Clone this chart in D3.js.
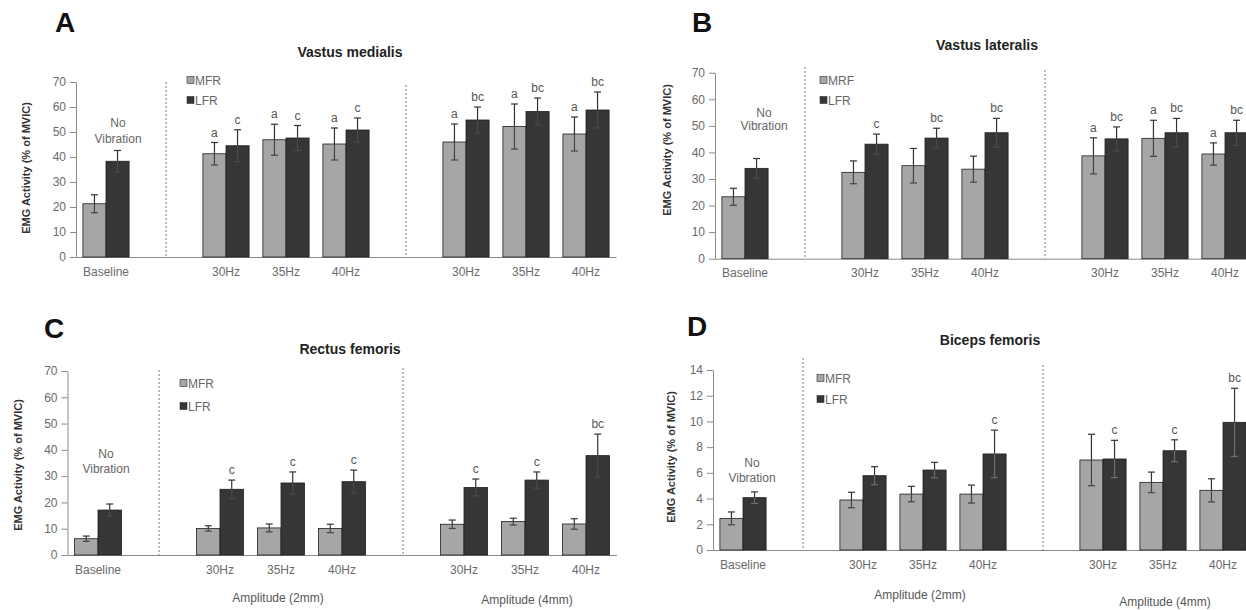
<!DOCTYPE html>
<html>
<head>
<meta charset="utf-8">
<script src="https://cdn.jsdelivr.net/npm/d3@7/dist/d3.min.js"></script>
<style>
  html, body { margin: 0; padding: 0; background: #fff; }
  svg { display: block; }
  text { font-family: "Liberation Sans", Arial, sans-serif; }
</style>
</head>
<body>
<svg id="chart" width="1246" height="610"></svg>
<script>
// ---------- DATA ----------
const slots = ["Baseline", "gap1", "30Hz_2mm", "35Hz_2mm", "40Hz_2mm", "gap2", "30Hz_4mm", "35Hz_4mm", "40Hz_4mm"];
const groups = ["Baseline", "30Hz_2mm", "35Hz_2mm", "40Hz_2mm", "30Hz_4mm", "35Hz_4mm", "40Hz_4mm"];
const tickLabels = ["Baseline", "30Hz", "35Hz", "40Hz", "30Hz", "35Hz", "40Hz"];
const seriesNames = ["MFR", "LFR"];

// Vastus medialis (A)
const vmMFR = [21.3, 41.3, 46.9, 45.2, 46.0, 52.2, 49.2];
const vmMFRerr = [3.6, 4.5, 6.2, 6.4, 7.2, 9.0, 6.8];
const vmLFR = [38.3, 44.5, 47.6, 50.8, 54.8, 58.2, 58.8];
const vmLFRerr = [4.3, 6.4, 5.0, 4.8, 5.2, 5.4, 7.2];
const vmMFRsig = ["", "a", "a", "a", "a", "a", "a"];
const vmLFRsig = ["", "c", "c", "c", "bc", "bc", "bc"];

// Vastus lateralis (B)
const vlMFR = [23.3, 32.5, 35.0, 33.7, 38.7, 45.3, 39.4];
const vlMFRerr = [3.2, 4.3, 6.5, 4.9, 6.8, 6.8, 4.2];
const vlLFR = [34.0, 43.1, 45.4, 47.4, 45.1, 47.4, 47.4];
const vlLFRerr = [3.7, 3.8, 3.7, 5.4, 4.5, 5.4, 4.7];
const vlMFRsig = ["", "", "", "", "a", "a", "a"];
const vlLFRsig = ["", "c", "bc", "bc", "bc", "bc", "bc"];

// Rectus femoris (C)
const rfMFR = [6.2, 10.1, 10.3, 10.1, 11.7, 12.7, 11.8];
const rfMFRerr = [1.0, 1.0, 1.5, 1.6, 1.6, 1.3, 2.0];
const rfLFR = [17.1, 25.0, 27.4, 27.9, 25.7, 28.5, 37.8];
const rfLFRerr = [2.3, 3.5, 4.2, 4.4, 3.2, 3.1, 8.2];
const rfMFRsig = ["", "", "", "", "", "", ""];
const rfLFRsig = ["", "c", "c", "c", "c", "c", "bc"];

// Biceps femoris (D)
const bfMFR = [2.46, 3.89, 4.35, 4.35, 7.0, 5.26, 4.64];
const bfMFRerr = [0.5, 0.6, 0.6, 0.7, 2.0, 0.8, 0.9];
const bfLFR = [4.07, 5.78, 6.22, 7.47, 7.08, 7.72, 9.93];
const bfLFRerr = [0.45, 0.7, 0.6, 1.85, 1.45, 0.85, 2.65];
const bfMFRsig = ["", "", "", "", "", "", ""];
const bfLFRsig = ["", "", "", "c", "c", "c", "bc"];

const ticks70 = [0, 10, 20, 30, 40, 50, 60, 70];
const ticks14 = [0, 2, 4, 6, 8, 10, 12, 14];

// ---------- LAYOUT / STYLE ----------
const colors = { MFR: "#a6a6a6", LFR: "#363636" };
const svg = d3.select("#chart");

const panels = [
  { letter: "A", title: "Vastus medialis", legend: ["MFR", "LFR"],
    mfr: vmMFR, mfrE: vmMFRerr, lfr: vmLFR, lfrE: vmLFRerr, mSig: vmMFRsig, lSig: vmLFRsig,
    yMax: 70, ticks: ticks70,
    x0: 76, x1: 616, yBottom: 257, yTop: 82,
    letterPos: [55, 32], titlePos: [350, 57], yLabelPos: [30, 168],
    noVib: [118, 127, 143], legendPos: [187, 80, 100],
    dash1Top: 82, dash2Top: 85, amplitude: false, lowerDark: true },
  { letter: "B", title: "Vastus lateralis", legend: ["MRF", "LFR"],
    mfr: vlMFR, mfrE: vlMFRerr, lfr: vlLFR, lfrE: vlLFRerr, mSig: vlMFRsig, lSig: vlLFRsig,
    yMax: 70, ticks: ticks70,
    x0: 715, x1: 1255, yBottom: 258.7, yTop: 72.7,
    letterPos: [692, 32], titlePos: [987, 50], yLabelPos: [671, 150],
    noVib: [764, 117, 130], legendPos: [820, 80, 100],
    dash1Top: 67, dash2Top: 70, amplitude: false, lowerDark: true },
  { letter: "C", title: "Rectus femoris", legend: ["MFR", "LFR"],
    mfr: rfMFR, mfrE: rfMFRerr, lfr: rfLFR, lfrE: rfLFRerr, mSig: rfMFRsig, lSig: rfLFRsig,
    yMax: 70, ticks: ticks70,
    x0: 67.5, x1: 616.5, yBottom: 555, yTop: 371,
    letterPos: [44, 338], titlePos: [350, 354], yLabelPos: [22, 465],
    noVib: [106, 458, 473], legendPos: [180, 383, 406],
    dash1Top: 370, dash2Top: 368, amplitude: true, ampY: [602, 604], lowerDark: true },
  { letter: "D", title: "Biceps femoris", legend: ["MFR", "LFR"],
    mfr: bfMFR, mfrE: bfMFRerr, lfr: bfLFR, lfrE: bfLFRerr, mSig: bfMFRsig, lSig: bfLFRsig,
    yMax: 14, ticks: ticks14,
    x0: 713, x1: 1253, yBottom: 550, yTop: 370,
    letterPos: [687, 336], titlePos: [990, 345], yLabelPos: [675, 457],
    noVib: [752, 467, 482], legendPos: [817, 378, 399],
    dash1Top: 358, dash2Top: 365, amplitude: true, ampY: [599, 606], lowerDark: false }
];

function drawPanel(p) {
  const g = svg.append("g");
  const x = d3.scaleBand().domain(slots).range([p.x0, p.x1]).paddingInner(0).paddingOuter(0);
  const inner = d3.scaleBand().domain(seriesNames).range([0, x.bandwidth() * 0.77]);
  const off = (x.bandwidth() - x.bandwidth() * 0.77) / 2;
  const y = d3.scaleLinear().domain([0, p.yMax]).range([p.yBottom, p.yTop]);

  g.append("text").attr("x", p.letterPos[0]).attr("y", p.letterPos[1])
    .attr("font-family", "'Open Sans', sans-serif")
    .attr("font-size", 28).attr("font-weight", "bold").attr("fill", "#111").text(p.letter);
  g.append("text").attr("x", p.titlePos[0]).attr("y", p.titlePos[1])
    .attr("text-anchor", "middle").attr("font-size", 14).attr("font-weight", "bold")
    .attr("fill", "#222").text(p.title);

  const yAxis = d3.axisLeft(y).tickValues(p.ticks).tickSize(6).tickPadding(4).tickSizeOuter(0);
  const ya = g.append("g").attr("transform", `translate(${p.x0},0)`).call(yAxis);
  ya.select(".domain").attr("stroke", "#8a8a8a");
  ya.selectAll(".tick line").attr("stroke", "#8a8a8a");
  ya.selectAll(".tick text").attr("fill", "#6a6a6a").attr("font-size", 12)
    .attr("font-family", "'Liberation Sans', Arial, sans-serif");

  g.append("text")
    .attr("transform", `translate(${p.yLabelPos[0]},${p.yLabelPos[1]}) rotate(-90)`)
    .attr("text-anchor", "middle").attr("font-size", 11).attr("font-weight", "bold")
    .attr("fill", "#333").text("EMG Activity (% of MVIC)");

  const labelMap = new Map(groups.map((k, i) => [k, tickLabels[i]]));
  const xAxis = d3.axisBottom(x).tickValues(groups).tickSize(0).tickPadding(10)
    .tickFormat(d => labelMap.get(d)).tickSizeOuter(0);
  const xa = g.append("g").attr("transform", `translate(0,${p.yBottom})`).call(xAxis);
  xa.select(".domain").attr("stroke", "#8a8a8a");
  xa.selectAll(".tick text").attr("fill", "#6a6a6a").attr("font-size", 12)
    .attr("font-family", "'Liberation Sans', Arial, sans-serif");

  [["gap1", p.dash1Top], ["gap2", p.dash2Top]].forEach(([k, top]) => {
    const cx = x(k) + x.bandwidth() / 2;
    g.append("line").attr("x1", cx).attr("x2", cx).attr("y1", top).attr("y2", p.yBottom)
      .attr("stroke", "#777").attr("stroke-width", 1).attr("stroke-dasharray", "2,2");
  });

  const rows = [];
  groups.forEach((k, i) => {
    rows.push({ key: k, s: "MFR", v: p.mfr[i], e: p.mfrE[i], sig: p.mSig[i] });
    rows.push({ key: k, s: "LFR", v: p.lfr[i], e: p.lfrE[i], sig: p.lSig[i] });
  });
  const bw = inner.bandwidth();
  const bx = d => x(d.key) + off + inner(d.s);
  g.selectAll(".bar").data(rows).enter().append("rect")
    .attr("x", bx).attr("width", bw)
    .attr("y", d => y(d.v)).attr("height", d => y(0) - y(d.v))
    .attr("fill", d => colors[d.s]).attr("stroke", "#1e1e1e").attr("stroke-width", 0.8);

  const lowCol = d => d.s === "MFR" ? "#444" : (p.lowerDark ? "#4a4a4a" : "#6e6e6e");
  const eb = g.selectAll(".err").data(rows).enter().append("g");
  // upper half
  eb.append("line")
    .attr("x1", d => bx(d) + bw / 2).attr("x2", d => bx(d) + bw / 2)
    .attr("y1", d => y(d.v + d.e)).attr("y2", d => y(d.v))
    .attr("stroke", "#333").attr("stroke-width", 1.2);
  eb.append("line")
    .attr("x1", d => bx(d) + bw / 2 - 3.5).attr("x2", d => bx(d) + bw / 2 + 3.5)
    .attr("y1", d => y(d.v + d.e)).attr("y2", d => y(d.v + d.e))
    .attr("stroke", "#333").attr("stroke-width", 1.2);
  // lower half
  eb.append("line")
    .attr("x1", d => bx(d) + bw / 2).attr("x2", d => bx(d) + bw / 2)
    .attr("y1", d => y(d.v)).attr("y2", d => y(d.v - d.e))
    .attr("stroke", lowCol).attr("stroke-width", 1.2);
  eb.append("line")
    .attr("x1", d => bx(d) + bw / 2 - 3.5).attr("x2", d => bx(d) + bw / 2 + 3.5)
    .attr("y1", d => y(d.v - d.e)).attr("y2", d => y(d.v - d.e))
    .attr("stroke", lowCol).attr("stroke-width", 1.2);

  g.selectAll(".sig").data(rows.filter(d => d.sig)).enter().append("text")
    .attr("x", d => bx(d) + bw / 2).attr("y", d => y(d.v + d.e) - 6)
    .attr("text-anchor", "middle").attr("font-size", 12).attr("fill", "#555")
    .text(d => d.sig);

  const nv = g.append("text").attr("text-anchor", "middle").attr("font-size", 12).attr("fill", "#666");
  nv.append("tspan").attr("x", p.noVib[0]).attr("y", p.noVib[1]).text("No");
  nv.append("tspan").attr("x", p.noVib[0]).attr("y", p.noVib[2]).text("Vibration");

  seriesNames.forEach((s, i) => {
    const ly = p.legendPos[1 + i];
    g.append("rect").attr("x", p.legendPos[0]).attr("y", ly - 3.5).attr("width", 7).attr("height", 7)
      .attr("fill", colors[s]).attr("stroke", "#333").attr("stroke-width", 0.6);
    g.append("text").attr("x", p.legendPos[0] + 8).attr("y", ly + 4.5)
      .attr("font-size", 12).attr("fill", "#666").text(p.legend[i]);
  });

  if (p.amplitude) {
    g.append("text").attr("x", x("35Hz_2mm") + x.bandwidth() / 2 - 3).attr("y", p.ampY[0])
      .attr("text-anchor", "middle").attr("font-size", 12).attr("fill", "#555").text("Amplitude (2mm)");
    g.append("text").attr("x", x("35Hz_4mm") + x.bandwidth() / 2 + 2).attr("y", p.ampY[1])
      .attr("text-anchor", "middle").attr("font-size", 12).attr("fill", "#555").text("Amplitude  (4mm)");
  }
}

panels.forEach(drawPanel);
</script>
</body>
</html>
